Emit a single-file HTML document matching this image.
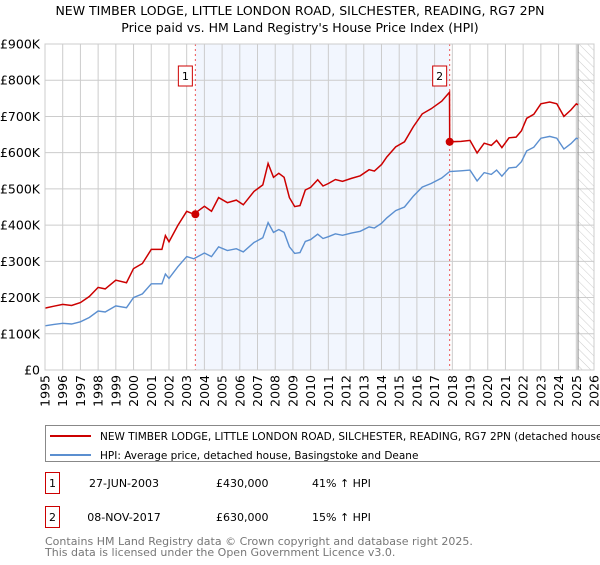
<!DOCTYPE html>
<html><head><meta charset="utf-8"><style>
body{margin:0;background:#fff;font-family:"Liberation Sans","DejaVu Sans",sans-serif;}
svg text{font-family:"DejaVu Sans","Liberation Sans",sans-serif;}
</style></head><body>
<svg id="chart" width="600" height="560" xmlns="http://www.w3.org/2000/svg">
<defs><pattern id="hatch" width="6" height="6" patternUnits="userSpaceOnUse" patternTransform="rotate(-45)"><line x1="0" y1="0" x2="0" y2="6" stroke="#ccc" stroke-width="1"/></pattern></defs>
<text x="300" y="15" font-size="12.5" text-anchor="middle">NEW TIMBER LODGE, LITTLE LONDON ROAD, SILCHESTER, READING, RG7 2PN</text>
<text x="300" y="32" font-size="12.5" text-anchor="middle">Price paid vs. HM Land Registry's House Price Index (HPI)</text>
<g id="plot"></g>
<rect x="45.5" y="425.5" width="560" height="36" fill="#fff" stroke="#888"/>
<line x1="50" y1="436" x2="91" y2="436" stroke="#cc0000" stroke-width="2"/>
<text x="100" y="440" font-size="10.5">NEW TIMBER LODGE, LITTLE LONDON ROAD, SILCHESTER, READING, RG7 2PN (detached house)</text>
<line x1="50" y1="455" x2="91" y2="455" stroke="#5b8fd0" stroke-width="2"/>
<text x="100" y="459" font-size="10.5">HPI: Average price, detached house, Basingstoke and Deane</text>
<g font-size="11">
<rect x="45.5" y="472.5" width="14" height="21" fill="#fff" stroke="#cc0000"/>
<text x="52.5" y="487" text-anchor="middle">1</text>
<text x="124" y="487" text-anchor="middle">27-JUN-2003</text>
<text x="216" y="487">£430,000</text>
<text x="312" y="487">41% ↑ HPI</text></g>
<g font-size="11">
<rect x="45.5" y="506.5" width="14" height="21" fill="#fff" stroke="#cc0000"/>
<text x="52.5" y="521" text-anchor="middle">2</text>
<text x="124" y="521" text-anchor="middle">08-NOV-2017</text>
<text x="216" y="521">£630,000</text>
<text x="312" y="521">15% ↑ HPI</text></g>
<text x="45" y="545" font-size="11" fill="#777">Contains HM Land Registry data © Crown copyright and database right 2025.</text>
<text x="45" y="556" font-size="11" fill="#777">This data is licensed under the Open Government Licence v3.0.</text>
</svg>
<script>
const hpiDates=[1995.0,1995.5,1996.0,1996.5,1997.0,1997.5,1998.0,1998.4,1999.0,1999.6,2000.0,2000.5,2001.0,2001.6,2001.8,2002.0,2002.5,2003.0,2003.4,2004.0,2004.4,2004.8,2005.3,2005.8,2006.2,2006.8,2007.3,2007.6,2007.9,2008.2,2008.5,2008.8,2009.1,2009.4,2009.7,2010.0,2010.4,2010.7,2011.0,2011.4,2011.8,2012.3,2012.8,2013.3,2013.6,2014.0,2014.3,2014.8,2015.3,2015.8,2016.3,2016.8,2017.4,2017.85,2018.5,2019.0,2019.4,2019.8,2020.2,2020.5,2020.8,2021.2,2021.6,2021.9,2022.2,2022.6,2023.0,2023.5,2023.9,2024.3,2024.7,2025.0,2025.1];
const hpiValues=[122,126,129,127,133,145,163,160,177,172,200,210,238,238,265,253,285,313,307,323,313,340,330,335,326,352,365,407,380,388,380,340,322,324,355,360,375,363,368,376,372,378,383,395,392,405,420,440,450,480,505,515,530,548,550,552,522,545,540,552,535,558,560,575,605,615,640,645,640,610,625,640,638];
const priceDates=[1995.0,1995.5,1996.0,1996.5,1997.0,1997.5,1998.0,1998.4,1999.0,1999.6,2000.0,2000.5,2001.0,2001.6,2001.8,2002.0,2002.5,2003.0,2003.4,2004.0,2004.4,2004.8,2005.3,2005.8,2006.2,2006.8,2007.3,2007.6,2007.9,2008.2,2008.5,2008.8,2009.1,2009.4,2009.7,2010.0,2010.4,2010.7,2011.0,2011.4,2011.8,2012.3,2012.8,2013.3,2013.6,2014.0,2014.3,2014.8,2015.3,2015.8,2016.3,2016.8,2017.4,2017.84,2017.85,2018.5,2019.0,2019.4,2019.8,2020.2,2020.5,2020.8,2021.2,2021.6,2021.9,2022.2,2022.6,2023.0,2023.5,2023.9,2024.3,2024.7,2025.0,2025.1];
const priceValues=[171,176,181,178,186,203,228,224,248,241,280,294,333,333,371,354,399,438,430,452,438,476,462,469,456,493,511,570,532,543,532,476,451,454,497,504,525,508,515,526,521,529,536,553,549,567,588,616,630,672,707,721,742,767,630,631,634,599,626,620,634,614,641,643,660,695,706,735,740,735,700,718,735,732];
const saleDates=[2003.49,2017.85];
const saleValues=[430,630];
const saleLabels=["1","2"];
const yTicks=[0,100,200,300,400,500,600,700,800,900];
const yTickLabels=["£0","£100K","£200K","£300K","£400K","£500K","£600K","£700K","£800K","£900K"];
const xYears=[1995,1996,1997,1998,1999,2000,2001,2002,2003,2004,2005,2006,2007,2008,2009,2010,2011,2012,2013,2014,2015,2016,2017,2018,2019,2020,2021,2022,2023,2024,2025,2026];
const X0=45,X1=594,Y0=370,Y1=44;
const sx=t=>X0+(t-1995)/(2026-1995)*(X1-X0);
const sy=v=>Y0-v/900*(Y0-Y1);
const NS="http://www.w3.org/2000/svg";
const g=document.getElementById('plot');
function mk(tag,attrs,parent){const e=document.createElementNS(NS,tag);for(const k in attrs)e.setAttribute(k,attrs[k]);(parent||g).appendChild(e);return e;}
let r=mk('rect',{x:X0,y:Y1,width:X1-X0,height:Y0-Y1,fill:'#fff'});


r=mk('rect',{x:sx(saleDates[0]),y:Y1,width:sx(saleDates[1])-sx(saleDates[0]),height:Y0-Y1,fill:'#eef3fd',opacity:0.75});


r=mk('rect',{x:sx(2025.1),y:Y1,width:X1-sx(2025.1),height:Y0-Y1,fill:'url(#hatch)'});


yTicks.forEach((v,i)=>{
  const l=mk('line',{x1:X0,x2:X1,y1:sy(v),y2:sy(v),stroke:'#ccc','stroke-width':1});
  
  
  const t=mk('text',{x:X0-5,y:sy(v)+4.5,'font-size':12.5,'text-anchor':'end'});
  
  
  t.textContent=yTickLabels[i];
});
xYears.forEach(y=>{
  const l=mk('line',{x1:sx(y),x2:sx(y),y1:Y1,y2:Y0,stroke:'#ccc','stroke-width':1});
  
  
  const t=mk('text',{x:0,y:0,'font-size':12.5,'text-anchor':'end',transform:`translate(${sx(y)+4.5},${Y0+5}) rotate(-90)`});
  
  
  t.textContent=y;
});
let vl=mk('line',{x1:sx(2025.1),x2:sx(2025.1),y1:Y1,y2:Y0,stroke:'#888','stroke-width':1});


saleDates.forEach((d,i)=>{
  const l=mk('line',{x1:sx(d),x2:sx(d),y1:Y1,y2:Y0,stroke:'#e55','stroke-width':1,'stroke-dasharray':'2,3'});
  
  
});
const path=(ds,vs)=>ds.map((d,i)=>(i?'L':'M')+sx(d).toFixed(1)+','+sy(vs[i]).toFixed(1)).join('');
let p=mk('path',{d:path(hpiDates,hpiValues),fill:'none',stroke:'#5b8fd0','stroke-width':1.4});


p=mk('path',{d:path(priceDates,priceValues),fill:'none',stroke:'#cc0000','stroke-width':1.5});


saleDates.forEach((d,i)=>{
  const c=mk('circle',{cx:sx(d),cy:sy(saleValues[i]),r:4,fill:'#cc0000'});
  
  
  const b=mk('rect',{x:sx(d)-17,y:66,width:14,height:20,fill:'#fff',stroke:'#cc0000'});
  
  
  const t=mk('text',{x:sx(d)-10,y:80,'font-size':11,'text-anchor':'middle'});
  
  
  t.textContent=saleLabels[i];
});
let fr=mk('rect',{x:X0,y:Y1,width:X1-X0,height:Y0-Y1,fill:'none',stroke:'#ccc'});


</script>
</body></html>
